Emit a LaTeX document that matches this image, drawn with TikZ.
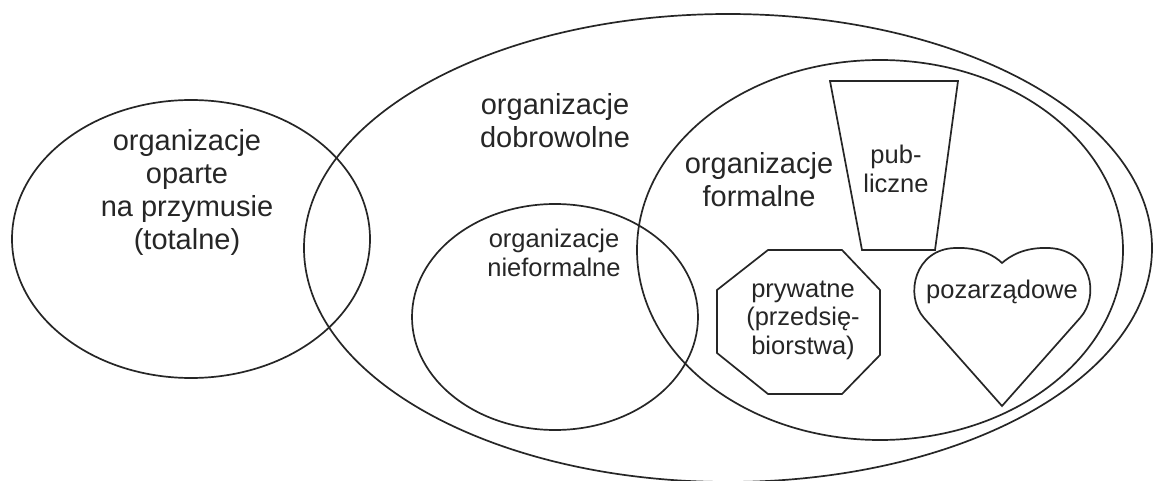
\documentclass[tikz,border=0pt]{standalone}
\usepackage{fontspec}
\setmainfont{Liberation Sans}
\begin{document}
\begin{tikzpicture}[x=1pt,y=-1pt,
  outline/.style={draw=black!85,line width=1.7pt},
  bigtext/.style={align=center,inner sep=0pt,font=\fontsize{29}{33}\selectfont,text=black!85},
  smalltext/.style={align=center,inner sep=0pt,font=\fontsize{25.5}{28.5}\selectfont,text=black!85}]
\useasboundingbox (0,0) rectangle (1154,481);
\fill[white] (0,0) rectangle (1154,481);

% sets as ellipses
\draw[outline] (191,239) ellipse [x radius=179pt, y radius=139pt];
\draw[outline] (728,248) ellipse [x radius=424pt, y radius=234pt];
\draw[outline] (880,250) ellipse [x radius=243pt, y radius=190pt];
\draw[outline] (555,317) ellipse [x radius=143pt, y radius=113pt];

% public: trapezoid
\draw[outline,line join=miter] (830,81) -- (958,81) -- (935,250) -- (862,250) -- cycle;

% private: octagon
\draw[outline,line join=miter] (768,250) -- (842,250) -- (880,290) -- (880,355)
  -- (842,394) -- (768,394) -- (717,353) -- (717,290) -- cycle;

% non-governmental: heart
\draw[outline,line join=miter] (1002,406) -- (924,318)
  .. controls (904,295) and (915,249) .. (955,248)
  .. controls (980,247) and (995,256) .. (1002,263)
  .. controls (1010,256) and (1024,247) .. (1049,248)
  .. controls (1092,250) and (1100,296) .. (1080,318) -- cycle;

% labels
\node[bigtext] (tot) at (187,192) {organizacje\\oparte\\na przymusie\\(totalne)};
\node[bigtext] (dob) at (555,121) {organizacje\\dobrowolne};
\node[bigtext] (form) at (759,180) {organizacje\\formalne};
\node[smalltext] (nief) at (554,253) {organizacje\\nieformalne};
\node[smalltext] (pub) at (896,169) {pub-\\liczne};
\node[smalltext] (pryw) at (803,320) {prywatne\\(przedsię-\\biorstwa)};
\node[smalltext] (poz) at (1002,292) {pozarządowe};
\end{tikzpicture}
\end{document}
